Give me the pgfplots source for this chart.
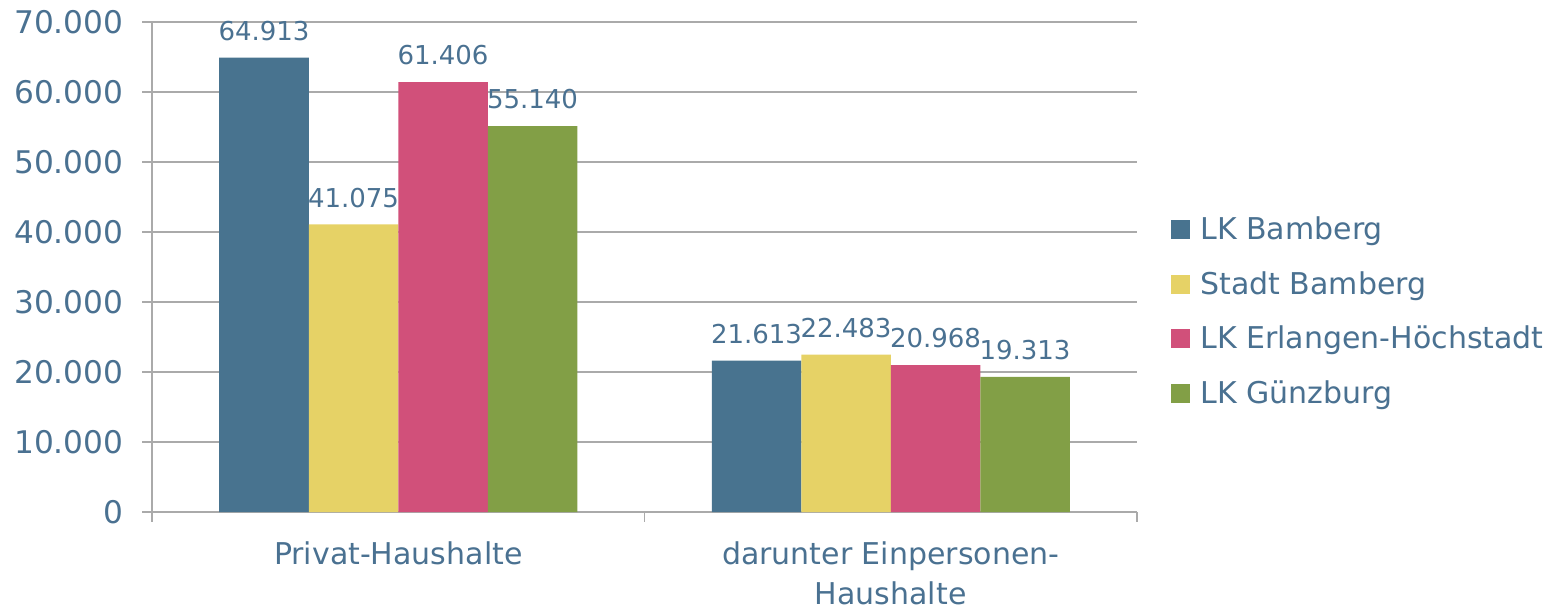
\documentclass[border=0pt]{standalone}
\usepackage{fontspec}
\setmainfont{DejaVu Sans}
\usepackage{pgfplots}
\pgfplotsset{compat=1.18}
\definecolor{TxtBlue}{HTML}{4A7191}
\definecolor{BarBlue}{HTML}{48738F}
\definecolor{BarYellow}{HTML}{E6D266}
\definecolor{BarPink}{HTML}{D1507A}
\definecolor{BarGreen}{HTML}{829F46}
\definecolor{GridGray}{HTML}{AAAAAA}

\begin{document}
\begin{tikzpicture}
\useasboundingbox (-76pt,-49.5pt) rectangle (705pt,256pt);
\begin{axis}[
  scale only axis,
  width=492.5pt, height=245pt,
  at={(0,0)}, anchor=south west,
  ybar=0pt, bar width=44.75pt,
  xmin=-0.5, xmax=1.5, ymin=0, ymax=70000,
  xtick={-0.5,0.5,1.5}, xticklabels={},
  extra x ticks={0,1},
  extra x tick labels={Privat-Haushalte,{darunter Einpersonen-\\Haushalte}},
  extra x tick style={major tick length=0pt, grid=none,
    ticklabel style={align=center, font=\fontsize{15}{20}\selectfont, yshift=-11.5pt}},
  ytick={0,10000,...,70000},
  scaled y ticks=false,
  ymajorgrids, grid style={GridGray, line width=0.8pt},
  axis lines*=left,
  axis line style={GridGray, line width=0.8pt, -},
  tick style={GridGray, line width=0.8pt},
  tick align=outside, major tick length=4.8pt,
  yticklabel style={font=\fontsize{15.6}{18}\selectfont, xshift=-6pt},
  ticklabel style={TxtBlue},
  /pgf/number format/.cd, fixed, 1000 sep={.}, precision=0, assume math mode=true,
  /pgfplots/.cd,
  nodes near coords,
  every node near coord/.append style={TxtBlue, font=\fontsize{13}{15}\selectfont, yshift=5pt},
  legend style={at={(1,0.409)}, anchor=west, xshift=14pt, draw=none,
    font=\fontsize{15}{18}\selectfont, text=TxtBlue, row sep=10.5pt,
    /tikz/every even column/.append style={column sep=0pt}},
  legend cell align=left,
  legend image code/.code={\fill[#1, draw=none] (0pt,-4.75pt) rectangle (9.5pt,4.75pt);},
  legend style={nodes={inner xsep=5pt}},
]
\addplot[fill=BarBlue, draw=none] coordinates {(0,64913) (1,21613)};
\addplot[fill=BarYellow, draw=none] coordinates {(0,41075) (1,22483)};
\addplot[fill=BarPink, draw=none] coordinates {(0,61406) (1,20968)};
\addplot[fill=BarGreen, draw=none] coordinates {(0,55140) (1,19313)};
\legend{LK Bamberg,Stadt Bamberg,LK Erlangen-Höchstadt,LK Günzburg}
\end{axis}
\end{tikzpicture}
\end{document}
